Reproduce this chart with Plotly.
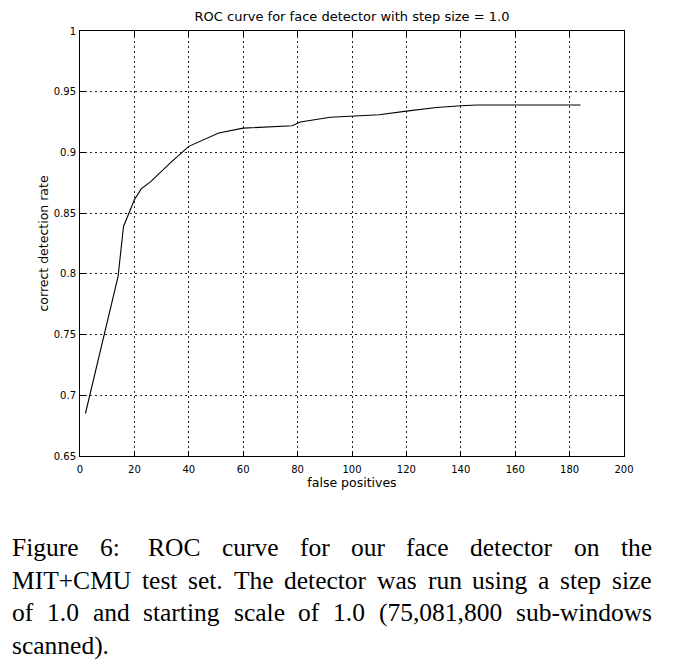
import re
import plotly.graph_objects as go

# ---------------- data ----------------
false_positives = [2, 14, 16, 20, 22.5, 26, 33.5, 40, 51, 60, 78, 81, 92, 100, 110, 120, 131, 140, 146, 184]
detection_rate = [0.685, 0.798, 0.839, 0.861, 0.870, 0.876, 0.892, 0.905, 0.916, 0.920,
                  0.922, 0.925, 0.929, 0.930, 0.931, 0.934, 0.937, 0.9385, 0.939, 0.939]

x_tick_vals = [0, 20, 40, 60, 80, 100, 120, 140, 160, 180, 200]
x_tick_text = ["0", "20", "40", "60", "80", "100", "120", "140", "160", "180", "200"]
y_tick_vals = [0.65, 0.7, 0.75, 0.8, 0.85, 0.9, 0.95, 1.0]
y_tick_text = ["0.65", "0.7", "0.75", "0.8", "0.85", "0.9", "0.95", "1"]

title_text = "ROC curve for face detector with step size = 1.0"
x_title = "false positives"
y_title = "correct detection rate"

caption_lines = [
    "Figure 6:  ROC curve for our face detector on the",
    "MIT+CMU test set. The detector was run using a step size",
    "of 1.0 and starting scale of 1.0 (75,081,800 sub-windows",
    "scanned).",
]

# ---------------- layout constants ----------------
W, H = 692, 670
ML, MR, MT, MB = 80, 68, 31, 214
PW, PH = W - ML - MR, H - MT - MB

AX_FONT = "DejaVu Sans"
CAP_FONT = "Liberation Serif"
CAP_FS = 25.5
CAP_LEFT, CAP_RIGHT = 11, 651
CAP_BASELINES = [556.5, 589, 621.5, 654]

# Times metrics (1/1000 em) for caption justification
TW = {' ': 250, '(': 333, ')': 333, '+': 564, ',': 250, '-': 333, '.': 250, ':': 278,
      'C': 667, 'F': 556, 'I': 333, 'M': 889, 'O': 722, 'R': 667, 'T': 611, 'U': 722,
      'a': 444, 'b': 500, 'c': 444, 'd': 500, 'e': 444, 'f': 333, 'g': 500, 'h': 500,
      'i': 278, 'l': 278, 'n': 500, 'o': 500, 'p': 500, 'r': 333, 's': 389, 't': 278,
      'u': 500, 'v': 500, 'w': 722, 'z': 444, 'm': 778, 'y': 500, 'k': 500, 'x': 500}
for d in "0123456789":
    TW[d] = 500


def tw(s):
    return sum(TW.get(ch, 500) for ch in s) / 1000.0 * CAP_FS


def px_to_paper_x(px):
    return (px - ML) / PW


def py_to_paper_y(py):
    return (MT + PH - py) / PH


fig = go.Figure()
fig.add_trace(go.Scatter(
    x=false_positives, y=detection_rate, mode="lines",
    line=dict(color="black", width=1.1), showlegend=False, hoverinfo="x+y",
))

axis_common = dict(
    showline=True, linecolor="black", linewidth=1, mirror="ticks",
    ticks="inside", ticklen=5, tickwidth=1, tickcolor="black",
    showgrid=True, gridcolor="#222222", gridwidth=1, griddash="2px,3px",
    zeroline=False, tickfont=dict(family=AX_FONT, size=10, color="black"),
)

fig.update_xaxes(
    range=[0, 200], tickvals=x_tick_vals, ticktext=x_tick_text,
    title=dict(text=x_title, font=dict(family=AX_FONT, size=12.5, color="black"), standoff=4),
    ticklabelstandoff=4, **axis_common,
)
fig.update_yaxes(
    range=[0.65, 1.0], tickvals=y_tick_vals, ticktext=y_tick_text,
    title=dict(text=y_title, font=dict(family=AX_FONT, size=12.5, color="black"), standoff=2),
    ticklabelstandoff=1, **axis_common,
)

annotations = []
for i, line in enumerate(caption_lines):
    parts = re.findall(r"(\S+)( *)", line)
    words = [p[0] for p in parts]
    gaps = [len(p[1]) for p in parts][:-1]
    ycen = CAP_BASELINES[i] - 0.3375 * CAP_FS
    justify = i < len(caption_lines) - 1 and len(words) > 1
    natural = sum(tw(w) for w in words) + sum(g * tw(' ') for g in gaps)
    extra = (CAP_RIGHT - CAP_LEFT - natural) / len(gaps) if justify else 0
    x = CAP_LEFT
    for j, w in enumerate(words):
        annotations.append(dict(
            text=w, xref="paper", yref="paper",
            x=px_to_paper_x(x), y=py_to_paper_y(ycen),
            xanchor="left", yanchor="middle", showarrow=False, borderpad=0,
            font=dict(family=CAP_FONT, size=CAP_FS, color="black"),
        ))
        x += tw(w)
        if j < len(gaps):
            x += gaps[j] * tw(' ') + extra

fig.update_layout(
    width=W, height=H,
    margin=dict(l=ML, r=MR, t=MT, b=MB),
    paper_bgcolor="white", plot_bgcolor="white",
    title=dict(text=title_text, x=0.5, xref="paper", y=1 - 16 / H, yref="container",
               xanchor="center", yanchor="middle",
               font=dict(family=AX_FONT, size=13, color="black")),
    annotations=annotations,
)

fig.write_html("out.html")
